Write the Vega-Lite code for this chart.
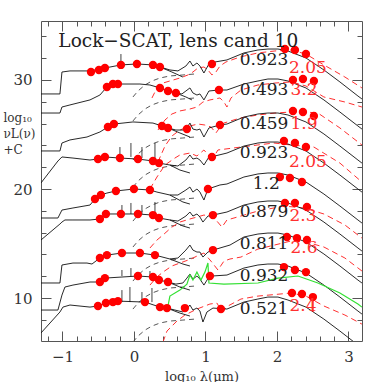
{
 "$schema": "https://vega.github.io/schema/vega-lite/v6.json",
 "width": 321, "height": 320,
 "autosize": {"type": "none"},
 "padding": {"left": 41, "top": 21, "right": 20, "bottom": 41},
 "background": "white",
 "config": {"view": {"stroke": null}, "font": "DejaVu Serif"},
 "datasets": {
  "tot": [
   {"g":1,"x":-1.301,"y":28.72},{"g":1,"x":-1.035,"y":28.72},{"g":1,"x":-1.007,"y":30.73},{"g":1,"x":-0.895,"y":30.83},{"g":1,"x":-0.643,"y":30.83},{"g":1,"x":-0.545,"y":30.92},{"g":1,"x":-0.406,"y":31.10},{"g":1,"x":-0.182,"y":31.38},{"g":1,"x":0.042,"y":31.47},{"g":1,"x":0.266,"y":31.38},{"g":1,"x":0.364,"y":31.19},{"g":1,"x":0.503,"y":30.92},{"g":1,"x":0.615,"y":30.83},{"g":1,"x":0.727,"y":31.28},{"g":1,"x":0.783,"y":31.74},{"g":1,"x":0.825,"y":31.28},{"g":1,"x":0.881,"y":31.56},{"g":1,"x":0.923,"y":31.28},{"g":1,"x":0.979,"y":30.64},{"g":1,"x":1.049,"y":31.47},{"g":1,"x":1.133,"y":31.65},{"g":1,"x":1.301,"y":31.84},{"g":1,"x":1.538,"y":32.48},{"g":1,"x":1.734,"y":32.75},{"g":1,"x":1.874,"y":32.84},{"g":1,"x":2.014,"y":32.84},{"g":1,"x":2.154,"y":32.66},{"g":1,"x":2.406,"y":32.02},{"g":1,"x":2.657,"y":30.92},{"g":1,"x":2.881,"y":29.82},{"g":1,"x":3.133,"y":28.53},{"g":1,"x":3.189,"y":28.26},
   {"g":2,"x":-1.301,"y":26.97},{"g":2,"x":-1.035,"y":26.97},{"g":2,"x":-1.007,"y":27.52},{"g":2,"x":-0.895,"y":27.71},{"g":2,"x":-0.615,"y":28.17},{"g":2,"x":-0.476,"y":28.62},{"g":2,"x":-0.378,"y":29.36},{"g":2,"x":-0.294,"y":29.63},{"g":2,"x":-0.224,"y":29.63},{"g":2,"x":0.084,"y":29.63},{"g":2,"x":0.224,"y":29.54},{"g":2,"x":0.364,"y":29.27},{"g":2,"x":0.476,"y":28.99},{"g":2,"x":0.587,"y":28.81},{"g":2,"x":0.671,"y":28.72},{"g":2,"x":0.727,"y":28.99},{"g":2,"x":0.783,"y":29.27},{"g":2,"x":0.825,"y":28.81},{"g":2,"x":0.881,"y":28.62},{"g":2,"x":0.923,"y":28.72},{"g":2,"x":0.979,"y":28.17},{"g":2,"x":1.049,"y":28.99},{"g":2,"x":1.189,"y":29.08},{"g":2,"x":1.301,"y":29.08},{"g":2,"x":1.538,"y":29.63},{"g":2,"x":1.734,"y":29.91},{"g":2,"x":1.874,"y":30.09},{"g":2,"x":2.014,"y":30.09},{"g":2,"x":2.154,"y":29.91},{"g":2,"x":2.406,"y":29.27},{"g":2,"x":2.657,"y":28.17},{"g":2,"x":2.881,"y":27.06},{"g":2,"x":3.133,"y":25.78},{"g":2,"x":3.189,"y":25.50},
   {"g":3,"x":-1.301,"y":23.49},{"g":3,"x":-1.035,"y":23.49},{"g":3,"x":-1.007,"y":24.22},{"g":3,"x":-0.895,"y":24.50},{"g":3,"x":-0.657,"y":24.77},{"g":3,"x":-0.476,"y":25.23},{"g":3,"x":-0.364,"y":25.69},{"g":3,"x":-0.280,"y":25.96},{"g":3,"x":-0.014,"y":26.15},{"g":3,"x":0.266,"y":26.05},{"g":3,"x":0.392,"y":25.78},{"g":3,"x":0.476,"y":25.60},{"g":3,"x":0.587,"y":25.41},{"g":3,"x":0.685,"y":25.41},{"g":3,"x":0.741,"y":25.60},{"g":3,"x":0.783,"y":26.05},{"g":3,"x":0.825,"y":25.50},{"g":3,"x":0.881,"y":25.41},{"g":3,"x":0.923,"y":25.50},{"g":3,"x":0.979,"y":24.77},{"g":3,"x":1.049,"y":25.60},{"g":3,"x":1.203,"y":25.87},{"g":3,"x":1.301,"y":25.96},{"g":3,"x":1.538,"y":26.60},{"g":3,"x":1.734,"y":26.88},{"g":3,"x":1.874,"y":26.97},{"g":3,"x":2.014,"y":26.97},{"g":3,"x":2.154,"y":26.79},{"g":3,"x":2.406,"y":26.15},{"g":3,"x":2.657,"y":25.05},{"g":3,"x":2.881,"y":23.94},{"g":3,"x":3.133,"y":22.66},{"g":3,"x":3.189,"y":22.38},
   {"g":4,"x":-1.301,"y":20.55},{"g":4,"x":-1.063,"y":22.57},{"g":4,"x":-1.007,"y":22.94},{"g":4,"x":-0.853,"y":22.84},{"g":4,"x":-0.615,"y":22.66},{"g":4,"x":-0.503,"y":22.75},{"g":4,"x":-0.406,"y":22.94},{"g":4,"x":-0.196,"y":22.84},{"g":4,"x":0.056,"y":22.75},{"g":4,"x":0.266,"y":22.57},{"g":4,"x":0.350,"y":22.38},{"g":4,"x":0.503,"y":22.20},{"g":4,"x":0.615,"y":22.11},{"g":4,"x":0.727,"y":22.66},{"g":4,"x":0.783,"y":23.12},{"g":4,"x":0.825,"y":22.75},{"g":4,"x":0.881,"y":22.84},{"g":4,"x":0.923,"y":22.66},{"g":4,"x":0.979,"y":22.20},{"g":4,"x":1.049,"y":22.94},{"g":4,"x":1.133,"y":23.03},{"g":4,"x":1.301,"y":23.30},{"g":4,"x":1.538,"y":23.94},{"g":4,"x":1.734,"y":24.22},{"g":4,"x":1.874,"y":24.31},{"g":4,"x":2.014,"y":24.31},{"g":4,"x":2.154,"y":24.13},{"g":4,"x":2.406,"y":23.49},{"g":4,"x":2.657,"y":22.38},{"g":4,"x":2.881,"y":21.28},{"g":4,"x":3.133,"y":20.00},{"g":4,"x":3.189,"y":19.72},
   {"g":5,"x":-1.301,"y":17.34},{"g":5,"x":-1.063,"y":17.34},{"g":5,"x":-1.007,"y":18.07},{"g":5,"x":-0.853,"y":18.26},{"g":5,"x":-0.615,"y":18.53},{"g":5,"x":-0.545,"y":19.08},{"g":5,"x":-0.462,"y":19.45},{"g":5,"x":-0.378,"y":19.63},{"g":5,"x":-0.252,"y":19.82},{"g":5,"x":0.0,"y":20.00},{"g":5,"x":0.224,"y":19.91},{"g":5,"x":0.322,"y":19.72},{"g":5,"x":0.503,"y":19.45},{"g":5,"x":0.615,"y":19.45},{"g":5,"x":0.727,"y":19.91},{"g":5,"x":0.783,"y":20.18},{"g":5,"x":0.825,"y":19.72},{"g":5,"x":0.881,"y":20.00},{"g":5,"x":0.923,"y":19.72},{"g":5,"x":0.979,"y":18.99},{"g":5,"x":1.035,"y":20.00},{"g":5,"x":1.203,"y":20.37},{"g":5,"x":1.301,"y":20.46},{"g":5,"x":1.538,"y":21.10},{"g":5,"x":1.734,"y":21.38},{"g":5,"x":1.874,"y":21.47},{"g":5,"x":2.014,"y":21.47},{"g":5,"x":2.154,"y":21.28},{"g":5,"x":2.406,"y":20.64},{"g":5,"x":2.657,"y":19.54},{"g":5,"x":2.881,"y":18.44},{"g":5,"x":3.133,"y":17.16},{"g":5,"x":3.189,"y":16.88},
   {"g":6,"x":-1.301,"y":15.32},{"g":6,"x":-1.035,"y":16.79},{"g":6,"x":-1.007,"y":16.97},{"g":6,"x":-0.965,"y":17.16},{"g":6,"x":-0.853,"y":17.16},{"g":6,"x":-0.615,"y":17.16},{"g":6,"x":-0.476,"y":17.25},{"g":6,"x":-0.392,"y":17.71},{"g":6,"x":-0.182,"y":17.71},{"g":6,"x":0.056,"y":17.71},{"g":6,"x":0.266,"y":17.61},{"g":6,"x":0.350,"y":17.34},{"g":6,"x":0.503,"y":17.16},{"g":6,"x":0.615,"y":17.06},{"g":6,"x":0.727,"y":17.52},{"g":6,"x":0.783,"y":17.89},{"g":6,"x":0.825,"y":17.52},{"g":6,"x":0.881,"y":17.71},{"g":6,"x":0.923,"y":17.43},{"g":6,"x":0.965,"y":16.97},{"g":6,"x":1.035,"y":17.52},{"g":6,"x":1.105,"y":17.61},{"g":6,"x":1.301,"y":17.89},{"g":6,"x":1.538,"y":18.53},{"g":6,"x":1.734,"y":18.81},{"g":6,"x":1.874,"y":18.90},{"g":6,"x":2.014,"y":18.90},{"g":6,"x":2.154,"y":18.72},{"g":6,"x":2.406,"y":18.07},{"g":6,"x":2.657,"y":16.97},{"g":6,"x":2.881,"y":15.87},{"g":6,"x":3.133,"y":14.59},{"g":6,"x":3.189,"y":14.31},
   {"g":7,"x":-1.301,"y":11.38},{"g":7,"x":-1.035,"y":11.38},{"g":7,"x":-1.007,"y":13.03},{"g":7,"x":-0.853,"y":13.21},{"g":7,"x":-0.657,"y":13.21},{"g":7,"x":-0.587,"y":13.12},{"g":7,"x":-0.476,"y":13.67},{"g":7,"x":-0.378,"y":13.94},{"g":7,"x":-0.168,"y":14.13},{"g":7,"x":0.084,"y":14.13},{"g":7,"x":0.294,"y":13.94},{"g":7,"x":0.503,"y":13.58},{"g":7,"x":0.615,"y":13.67},{"g":7,"x":0.727,"y":14.40},{"g":7,"x":0.783,"y":14.86},{"g":7,"x":0.825,"y":14.40},{"g":7,"x":0.881,"y":14.22},{"g":7,"x":0.923,"y":14.22},{"g":7,"x":0.965,"y":13.76},{"g":7,"x":1.035,"y":14.22},{"g":7,"x":1.105,"y":14.40},{"g":7,"x":1.343,"y":14.86},{"g":7,"x":1.538,"y":15.60},{"g":7,"x":1.734,"y":15.87},{"g":7,"x":1.874,"y":15.96},{"g":7,"x":2.014,"y":15.96},{"g":7,"x":2.154,"y":15.78},{"g":7,"x":2.406,"y":15.14},{"g":7,"x":2.657,"y":14.04},{"g":7,"x":2.881,"y":12.94},{"g":7,"x":3.133,"y":11.65},{"g":7,"x":3.189,"y":11.38},
   {"g":8,"x":-1.301,"y":8.90},{"g":8,"x":-1.063,"y":8.90},{"g":8,"x":-1.007,"y":10.27},{"g":8,"x":-0.965,"y":11.01},{"g":8,"x":-0.853,"y":11.19},{"g":8,"x":-0.615,"y":11.47},{"g":8,"x":-0.476,"y":11.47},{"g":8,"x":-0.406,"y":11.83},{"g":8,"x":0.056,"y":12.02},{"g":8,"x":0.266,"y":11.93},{"g":8,"x":0.350,"y":11.65},{"g":8,"x":0.476,"y":11.47},{"g":8,"x":0.587,"y":11.28},{"g":8,"x":0.685,"y":11.38},{"g":8,"x":0.741,"y":11.83},{"g":8,"x":0.783,"y":12.20},{"g":8,"x":0.825,"y":11.74},{"g":8,"x":0.881,"y":12.02},{"g":8,"x":0.923,"y":11.74},{"g":8,"x":0.979,"y":11.19},{"g":8,"x":1.049,"y":11.93},{"g":8,"x":1.091,"y":12.02},{"g":8,"x":1.301,"y":12.11},{"g":8,"x":1.538,"y":12.75},{"g":8,"x":1.734,"y":13.03},{"g":8,"x":1.874,"y":13.12},{"g":8,"x":2.014,"y":13.12},{"g":8,"x":2.154,"y":12.94},{"g":8,"x":2.406,"y":12.29},{"g":8,"x":2.657,"y":11.19},{"g":8,"x":2.881,"y":10.09},{"g":8,"x":3.133,"y":8.81},{"g":8,"x":3.189,"y":8.53},
   {"g":9,"x":-1.301,"y":6.79},{"g":9,"x":-1.035,"y":8.72},{"g":9,"x":-0.993,"y":9.17},{"g":9,"x":-0.895,"y":9.36},{"g":9,"x":-0.615,"y":9.17},{"g":9,"x":-0.503,"y":9.27},{"g":9,"x":-0.392,"y":9.54},{"g":9,"x":-0.294,"y":9.63},{"g":9,"x":-0.224,"y":9.72},{"g":9,"x":0.154,"y":9.63},{"g":9,"x":0.364,"y":9.17},{"g":9,"x":0.462,"y":9.08},{"g":9,"x":0.573,"y":8.90},{"g":9,"x":0.685,"y":8.72},{"g":9,"x":0.741,"y":8.99},{"g":9,"x":0.783,"y":9.36},{"g":9,"x":0.825,"y":8.90},{"g":9,"x":0.881,"y":9.08},{"g":9,"x":0.923,"y":8.81},{"g":9,"x":0.965,"y":7.80},{"g":9,"x":1.021,"y":8.72},{"g":9,"x":1.105,"y":9.08},{"g":9,"x":1.301,"y":8.99},{"g":9,"x":1.538,"y":9.63},{"g":9,"x":1.734,"y":9.91},{"g":9,"x":1.874,"y":10.09},{"g":9,"x":2.014,"y":10.09},{"g":9,"x":2.154,"y":9.82},{"g":9,"x":2.406,"y":9.17},{"g":9,"x":2.657,"y":8.07},{"g":9,"x":2.881,"y":6.97},{"g":9,"x":3.133,"y":5.69},{"g":9,"x":3.189,"y":5.41}
  ],
  "tail": [
   {"g":1,"x":0.364,"y":31.19},{"g":1,"x":0.531,"y":30.73},{"g":1,"x":0.685,"y":30.27},
   {"g":2,"x":0.587,"y":28.81},{"g":2,"x":0.727,"y":28.44},{"g":2,"x":0.811,"y":28.17},
   {"g":3,"x":0.476,"y":25.60},{"g":3,"x":0.643,"y":25.14},{"g":3,"x":0.783,"y":24.77},
   {"g":4,"x":0.503,"y":22.20},{"g":4,"x":0.643,"y":21.74},{"g":4,"x":0.783,"y":21.47},
   {"g":5,"x":0.503,"y":19.45},{"g":5,"x":0.685,"y":18.81},{"g":5,"x":0.783,"y":18.62},
   {"g":6,"x":0.503,"y":17.16},{"g":6,"x":0.685,"y":16.61},{"g":6,"x":0.783,"y":16.42},
   {"g":7,"x":0.503,"y":13.58},{"g":7,"x":0.685,"y":13.12},{"g":7,"x":0.783,"y":12.94},
   {"g":8,"x":0.476,"y":11.47},{"g":8,"x":0.643,"y":11.01},{"g":8,"x":0.783,"y":10.73},
   {"g":9,"x":0.462,"y":9.08},{"g":9,"x":0.643,"y":8.62},{"g":9,"x":0.783,"y":8.35}
  ],
  "bd": [
   {"g":1,"x":-0.014,"y":28.44},{"g":1,"x":0.056,"y":28.99},{"g":1,"x":0.154,"y":29.54},{"g":1,"x":0.252,"y":29.91},{"g":1,"x":0.364,"y":30.18},{"g":1,"x":0.503,"y":30.37},{"g":1,"x":0.685,"y":30.46},{"g":1,"x":0.853,"y":30.55},
   {"g":2,"x":-0.014,"y":26.24},{"g":2,"x":0.056,"y":26.79},{"g":2,"x":0.154,"y":27.34},{"g":2,"x":0.252,"y":27.71},{"g":2,"x":0.364,"y":27.98},{"g":2,"x":0.503,"y":28.17},{"g":2,"x":0.685,"y":28.26},{"g":2,"x":0.853,"y":28.35},
   {"g":3,"x":-0.014,"y":22.66},{"g":3,"x":0.056,"y":23.21},{"g":3,"x":0.154,"y":23.76},{"g":3,"x":0.252,"y":24.13},{"g":3,"x":0.364,"y":24.40},{"g":3,"x":0.503,"y":24.59},{"g":3,"x":0.685,"y":24.68},{"g":3,"x":0.853,"y":24.77},
   {"g":4,"x":-0.014,"y":20.18},{"g":4,"x":0.056,"y":20.73},{"g":4,"x":0.154,"y":21.28},{"g":4,"x":0.252,"y":21.65},{"g":4,"x":0.364,"y":21.93},{"g":4,"x":0.503,"y":22.11},{"g":4,"x":0.685,"y":22.20},{"g":4,"x":0.853,"y":22.29},
   {"g":5,"x":-0.014,"y":17.06},{"g":5,"x":0.056,"y":17.61},{"g":5,"x":0.154,"y":18.17},{"g":5,"x":0.252,"y":18.53},{"g":5,"x":0.364,"y":18.81},{"g":5,"x":0.503,"y":18.99},{"g":5,"x":0.685,"y":19.08},{"g":5,"x":0.853,"y":19.17},
   {"g":6,"x":-0.014,"y":14.68},{"g":6,"x":0.056,"y":15.23},{"g":6,"x":0.154,"y":15.78},{"g":6,"x":0.252,"y":16.15},{"g":6,"x":0.364,"y":16.42},{"g":6,"x":0.503,"y":16.61},{"g":6,"x":0.685,"y":16.70},{"g":6,"x":0.853,"y":16.79},
   {"g":7,"x":-0.014,"y":11.56},{"g":7,"x":0.056,"y":12.11},{"g":7,"x":0.154,"y":12.66},{"g":7,"x":0.252,"y":13.03},{"g":7,"x":0.364,"y":13.30},{"g":7,"x":0.503,"y":13.49},{"g":7,"x":0.685,"y":13.58},{"g":7,"x":0.853,"y":13.67},
   {"g":8,"x":-0.014,"y":8.99},{"g":8,"x":0.056,"y":9.54},{"g":8,"x":0.154,"y":10.09},{"g":8,"x":0.252,"y":10.46},{"g":8,"x":0.364,"y":10.73},{"g":8,"x":0.503,"y":10.92},{"g":8,"x":0.685,"y":11.01},{"g":8,"x":0.853,"y":11.10},
   {"g":9,"x":-0.014,"y":5.96},{"g":9,"x":0.056,"y":6.51},{"g":9,"x":0.154,"y":7.06},{"g":9,"x":0.252,"y":7.43},{"g":9,"x":0.364,"y":7.71},{"g":9,"x":0.503,"y":7.89},{"g":9,"x":0.685,"y":7.98},{"g":9,"x":0.853,"y":8.07}
  ],
  "rd": [
   {"g":1,"x":0.252,"y":28.35},{"g":1,"x":0.322,"y":29.27},{"g":1,"x":0.406,"y":29.72},{"g":1,"x":0.503,"y":29.91},{"g":1,"x":0.643,"y":30.18},{"g":1,"x":0.755,"y":30.46},{"g":1,"x":0.825,"y":30.73},{"g":1,"x":0.895,"y":31.10},{"g":1,"x":0.979,"y":31.19},{"g":1,"x":1.035,"y":30.92},{"g":1,"x":1.091,"y":30.46},{"g":1,"x":1.147,"y":30.73},{"g":1,"x":1.203,"y":31.28},{"g":1,"x":1.287,"y":31.65},{"g":1,"x":1.483,"y":32.11},{"g":1,"x":1.734,"y":32.48},{"g":1,"x":1.972,"y":32.66},{"g":1,"x":2.196,"y":32.75},{"g":1,"x":2.406,"y":32.38},{"g":1,"x":2.657,"y":31.38},{"g":1,"x":2.951,"y":30.27},{"g":1,"x":3.189,"y":29.27},
   {"g":2,"x":0.336,"y":25.41},{"g":2,"x":0.434,"y":26.33},{"g":2,"x":0.531,"y":26.88},{"g":2,"x":0.643,"y":27.16},{"g":2,"x":0.783,"y":27.34},{"g":2,"x":0.881,"y":27.52},{"g":2,"x":0.965,"y":27.98},{"g":2,"x":1.063,"y":28.17},{"g":2,"x":1.203,"y":28.35},{"g":2,"x":1.259,"y":27.98},{"g":2,"x":1.301,"y":27.52},{"g":2,"x":1.357,"y":28.35},{"g":2,"x":1.497,"y":29.08},{"g":2,"x":1.734,"y":29.54},{"g":2,"x":1.972,"y":29.72},{"g":2,"x":2.196,"y":29.82},{"g":2,"x":2.406,"y":29.45},{"g":2,"x":2.657,"y":28.44},{"g":2,"x":2.951,"y":27.98},{"g":2,"x":3.189,"y":27.52},
   {"g":3,"x":0.336,"y":22.48},{"g":3,"x":0.434,"y":23.94},{"g":3,"x":0.531,"y":24.86},{"g":3,"x":0.643,"y":25.41},{"g":3,"x":0.783,"y":25.78},{"g":3,"x":0.895,"y":25.96},{"g":3,"x":0.993,"y":25.87},{"g":3,"x":1.077,"y":25.69},{"g":3,"x":1.147,"y":25.14},{"g":3,"x":1.217,"y":25.78},{"g":3,"x":1.259,"y":26.05},{"g":3,"x":1.483,"y":26.51},{"g":3,"x":1.734,"y":26.79},{"g":3,"x":1.972,"y":26.97},{"g":3,"x":2.196,"y":27.06},{"g":3,"x":2.406,"y":27.06},{"g":3,"x":2.573,"y":26.97},{"g":3,"x":2.881,"y":25.60},{"g":3,"x":3.189,"y":24.04},
   {"g":4,"x":0.224,"y":20.00},{"g":4,"x":0.322,"y":21.10},{"g":4,"x":0.434,"y":22.20},{"g":4,"x":0.573,"y":22.84},{"g":4,"x":0.643,"y":23.12},{"g":4,"x":0.783,"y":23.30},{"g":4,"x":0.881,"y":23.03},{"g":4,"x":0.979,"y":23.58},{"g":4,"x":1.063,"y":22.94},{"g":4,"x":1.133,"y":23.12},{"g":4,"x":1.175,"y":23.58},{"g":4,"x":1.497,"y":23.85},{"g":4,"x":1.734,"y":24.04},{"g":4,"x":1.958,"y":24.22},{"g":4,"x":2.196,"y":24.04},{"g":4,"x":2.517,"y":23.85},{"g":4,"x":2.881,"y":22.38},{"g":4,"x":3.189,"y":20.64},
   {"g":6,"x":0.224,"y":14.59},{"g":6,"x":0.322,"y":15.32},{"g":6,"x":0.406,"y":15.78},{"g":6,"x":0.531,"y":16.51},{"g":6,"x":0.643,"y":16.97},{"g":6,"x":0.783,"y":17.25},{"g":6,"x":0.881,"y":17.43},{"g":6,"x":0.979,"y":17.61},{"g":6,"x":1.063,"y":17.52},{"g":6,"x":1.147,"y":17.16},{"g":6,"x":1.231,"y":16.51},{"g":6,"x":1.301,"y":17.16},{"g":6,"x":1.399,"y":17.34},{"g":6,"x":1.734,"y":17.98},{"g":6,"x":2.098,"y":18.44},{"g":6,"x":2.378,"y":18.26},{"g":6,"x":2.657,"y":17.71},{"g":6,"x":2.951,"y":16.70},{"g":6,"x":3.189,"y":15.50},
   {"g":7,"x":0.224,"y":11.19},{"g":7,"x":0.322,"y":11.93},{"g":7,"x":0.406,"y":12.38},{"g":7,"x":0.531,"y":12.94},{"g":7,"x":0.643,"y":13.21},{"g":7,"x":0.797,"y":13.58},{"g":7,"x":0.881,"y":13.85},{"g":7,"x":0.979,"y":14.13},{"g":7,"x":1.077,"y":13.39},{"g":7,"x":1.175,"y":12.57},{"g":7,"x":1.259,"y":13.39},{"g":7,"x":1.343,"y":13.58},{"g":7,"x":1.497,"y":13.76},{"g":7,"x":1.734,"y":14.49},{"g":7,"x":2.196,"y":15.23},{"g":7,"x":2.406,"y":15.14},{"g":7,"x":2.657,"y":14.68},{"g":7,"x":2.951,"y":13.67},{"g":7,"x":3.189,"y":12.48},
   {"g":9,"x":0.406,"y":5.96},{"g":9,"x":0.462,"y":6.97},{"g":9,"x":0.601,"y":7.89},{"g":9,"x":0.713,"y":8.44},{"g":9,"x":0.881,"y":8.99},{"g":9,"x":1.063,"y":9.45},{"g":9,"x":1.161,"y":9.54},{"g":9,"x":1.231,"y":8.72},{"g":9,"x":1.315,"y":9.27},{"g":9,"x":1.497,"y":9.91},{"g":9,"x":1.734,"y":10.18},{"g":9,"x":2.196,"y":10.46},{"g":9,"x":2.406,"y":10.18},{"g":9,"x":2.657,"y":9.27},{"g":9,"x":2.951,"y":8.44},{"g":9,"x":3.189,"y":7.61}
  ],
  "green": [
   {"x":0.364,"y":9.17},{"x":0.476,"y":9.27},{"x":0.503,"y":10.18},{"x":0.643,"y":10.73},{"x":0.741,"y":11.28},{"x":0.783,"y":12.11},{"x":0.825,"y":11.65},{"x":0.881,"y":12.38},{"x":0.937,"y":11.65},{"x":0.993,"y":12.38},{"x":1.035,"y":13.21},{"x":1.049,"y":11.38},{"x":1.259,"y":11.28},{"x":1.734,"y":11.38},{"x":2.014,"y":11.83},{"x":2.294,"y":12.02},{"x":2.573,"y":11.38},{"x":2.881,"y":10.46},{"x":3.133,"y":9.45},{"x":3.189,"y":9.17}
  ],
  "dots": [
   {"x":-0.601,"y":30.73},{"x":-0.490,"y":30.92},{"x":-0.406,"y":31.10},{"x":-0.182,"y":31.38},{"x":0.042,"y":31.47},{"x":0.266,"y":31.38},{"x":0.364,"y":31.19},{"x":1.091,"y":31.47},{"x":2.112,"y":32.84},{"x":2.252,"y":32.75},{"x":2.406,"y":32.38},
   {"x":-0.378,"y":29.36},{"x":-0.294,"y":29.63},{"x":-0.224,"y":29.63},{"x":0.364,"y":29.27},{"x":0.476,"y":28.99},{"x":0.587,"y":28.81},{"x":1.189,"y":29.08},{"x":2.224,"y":30.00},{"x":2.364,"y":30.09},{"x":2.517,"y":29.91},
   {"x":-0.364,"y":25.69},{"x":-0.280,"y":25.96},{"x":0.392,"y":25.78},{"x":0.476,"y":25.60},{"x":0.741,"y":25.50},{"x":1.203,"y":25.87},{"x":2.224,"y":27.16},{"x":2.364,"y":27.06},{"x":2.517,"y":26.70},
   {"x":-0.503,"y":22.75},{"x":-0.406,"y":22.94},{"x":-0.196,"y":22.84},{"x":0.056,"y":22.75},{"x":0.266,"y":22.57},{"x":0.350,"y":22.38},{"x":1.091,"y":22.94},{"x":2.098,"y":24.40},{"x":2.252,"y":24.22},{"x":2.406,"y":23.85},
   {"x":-0.545,"y":19.08},{"x":-0.462,"y":19.45},{"x":-0.252,"y":19.82},{"x":0.0,"y":20.00},{"x":0.224,"y":19.91},{"x":1.035,"y":20.00},{"x":2.042,"y":21.10},{"x":2.182,"y":21.01},{"x":2.350,"y":20.64},
   {"x":-0.476,"y":17.25},{"x":-0.392,"y":17.71},{"x":-0.182,"y":17.71},{"x":0.056,"y":17.71},{"x":0.266,"y":17.61},{"x":0.350,"y":17.34},{"x":1.105,"y":17.61},{"x":2.112,"y":18.72},{"x":2.252,"y":18.72},{"x":2.420,"y":18.35},
   {"x":-0.476,"y":13.67},{"x":-0.378,"y":13.94},{"x":-0.168,"y":14.13},{"x":0.084,"y":14.13},{"x":0.294,"y":13.94},{"x":1.105,"y":14.40},{"x":2.140,"y":15.60},{"x":2.280,"y":15.50},{"x":2.420,"y":15.32},
   {"x":-0.476,"y":11.47},{"x":-0.406,"y":11.83},{"x":0.056,"y":12.02},{"x":0.266,"y":11.93},{"x":0.350,"y":11.65},{"x":0.476,"y":11.47},{"x":1.063,"y":12.02},{"x":2.098,"y":12.84},{"x":2.252,"y":12.57},{"x":2.406,"y":12.38},
   {"x":-0.503,"y":9.27},{"x":-0.392,"y":9.54},{"x":-0.294,"y":9.63},{"x":-0.224,"y":9.72},{"x":0.154,"y":9.63},{"x":0.364,"y":9.17},{"x":0.462,"y":9.08},{"x":0.713,"y":9.08},{"x":1.217,"y":8.99},{"x":2.210,"y":10.46},{"x":2.350,"y":10.37},{"x":2.503,"y":10.09}
  ],
  "spikes": [
   {"x":-0.182,"y":31.38,"y2":32.38},{"x":0.042,"y":31.47,"y2":31.84},
   {"x":-0.196,"y":22.84,"y2":23.85},{"x":-0.042,"y":22.94,"y2":24.22},{"x":0.112,"y":22.84,"y2":23.85},{"x":0.294,"y":22.57,"y2":24.22},
   {"x":-0.168,"y":17.71,"y2":18.53},{"x":-0.042,"y":17.71,"y2":18.72},{"x":0.112,"y":17.71,"y2":18.53},{"x":0.294,"y":17.61,"y2":18.81},
   {"x":-0.168,"y":12.02,"y2":12.57},{"x":-0.042,"y":12.02,"y2":12.75},{"x":0.224,"y":11.93,"y2":12.48},
   {"x":-0.168,"y":9.63,"y2":10.73},{"x":-0.056,"y":9.63,"y2":11.01},{"x":0.112,"y":9.63,"y2":10.55},{"x":0.252,"y":9.63,"y2":10.92}
  ],
  "ulim": [{"x":2.503,"y":10.09,"y2":8.72}],
  "labk": [
   {"x":1.82,"y":31.84,"t":"0.923"},{"x":1.82,"y":29.08,"t":"0.493"},{"x":1.82,"y":25.96,"t":"0.459"},{"x":1.82,"y":23.30,"t":"0.923"},{"x":1.85,"y":20.46,"t":"1.2"},{"x":1.82,"y":17.89,"t":"0.879"},{"x":1.82,"y":14.95,"t":"0.811"},{"x":1.82,"y":12.02,"t":"0.932"},{"x":1.82,"y":8.99,"t":"0.521"}
  ],
  "labr": [
   {"x":2.434,"y":31.10,"t":"2.05"},{"x":2.378,"y":29.08,"t":"3.2"},{"x":2.378,"y":25.96,"t":"1.9"},{"x":2.434,"y":22.48,"t":"2.05"},{"x":2.364,"y":17.52,"t":"2.3"},{"x":2.378,"y":14.59,"t":"2.6"},{"x":2.364,"y":9.27,"t":"2.4"}
  ],
  "ttl": [{"x":0.62,"y":33.60,"t":"Lock−SCAT, lens cand 10"}]
 },
 "layer": [
  {
   "encoding": {
    "x": {"field": "x", "type": "quantitative",
     "scale": {"domain": [-1.3, 3.19], "nice": false, "zero": false},
     "axis": {"orient": "bottom", "grid": false,
      "values": [-1.2,-1,-0.8,-0.6,-0.4,-0.2,0,0.2,0.4,0.6,0.8,1,1.2,1.4,1.6,1.8,2,2.2,2.4,2.6,2.8,3],
      "format": ".0f",
      "labelExpr": "abs(datum.value - round(datum.value)) < 0.001 ? datum.label : ''",
      "tickSize": {"condition": {"test": "abs(datum.value - round(datum.value)) < 0.001", "value": -10}, "value": -5},
      "labelPadding": 18, "labelFontSize": 15, "labelFont": "DejaVu Serif", "labelColor": "#333",
      "labelOverlap": false, "labelFlush": false,
      "tickColor": "#555", "domainColor": "#555",
      "title": "log₁₀  λ(μm)", "titleFont": "DejaVu Serif", "titleFontSize": 13, "titleFontWeight": "normal", "titleColor": "#333",
      "titleY": 35, "titleBaseline": "middle"}},
    "y": {"field": "y", "type": "quantitative",
     "scale": {"domain": [6.06, 35.41], "nice": false, "zero": false},
     "axis": {"orient": "left", "grid": false,
      "values": [8,10,12,14,16,18,20,22,24,26,28,30,32,34],
      "labelExpr": "datum.value % 10 === 0 ? datum.label : ''",
      "tickSize": {"condition": {"test": "datum.value % 10 === 0", "value": -10}, "value": -5},
      "labelPadding": 19, "labelFontSize": 15, "labelFont": "DejaVu Serif", "labelColor": "#333",
      "labelOverlap": false, "labelFlush": false,
      "tickColor": "#555", "domainColor": "#555",
      "title": ["log₁₀", "νL(ν)", "+C"], "titleFont": "DejaVu Serif", "titleFontSize": 12, "titleFontWeight": "normal", "titleColor": "#333",
      "titleAngle": 0, "titleAlign": "left", "titleBaseline": "alphabetic", "titleX": -38, "titleY": 100, "titleLineHeight": 16}}
   },
   "layer": [
    {"data": {"name": "bd"}, "mark": {"type": "line", "color": "#444", "strokeWidth": 0.9, "strokeDash": [5, 4], "clip": true}, "encoding": {"detail": {"field": "g"}}},
    {"data": {"name": "rd"}, "mark": {"type": "line", "color": "#ff3030", "strokeWidth": 1, "strokeDash": [6, 4], "clip": true}, "encoding": {"detail": {"field": "g"}}},
    {"data": {"name": "tail"}, "mark": {"type": "line", "color": "#111", "strokeWidth": 0.9, "clip": true}, "encoding": {"detail": {"field": "g"}}},
    {"data": {"name": "tot"}, "mark": {"type": "line", "color": "#111", "strokeWidth": 0.9, "clip": true}, "encoding": {"detail": {"field": "g"}}},
    {"data": {"name": "green"}, "mark": {"type": "line", "color": "#33e033", "strokeWidth": 1.2, "clip": true}, "encoding": {}},
    {"data": {"name": "spikes"}, "mark": {"type": "rule", "color": "#111", "strokeWidth": 0.8}, "encoding": {"y2": {"field": "y2"}}},
    {"data": {"name": "ulim"}, "mark": {"type": "rule", "color": "#ff0000", "strokeWidth": 1.2}, "encoding": {"y2": {"field": "y2"}}},
    {"data": {"name": "dots"}, "mark": {"type": "point", "filled": true, "color": "#ff0000", "size": 70, "opacity": 1}, "encoding": {}},
    {"data": {"name": "labk"}, "mark": {"type": "text", "font": "DejaVu Serif", "fontSize": 17, "color": "#222", "align": "center", "baseline": "middle"}, "encoding": {"text": {"field": "t"}}},
    {"data": {"name": "labr"}, "mark": {"type": "text", "font": "DejaVu Serif", "fontSize": 17, "color": "#ff3030", "align": "center", "baseline": "middle"}, "encoding": {"text": {"field": "t"}}},
    {"data": {"name": "ttl"}, "mark": {"type": "text", "font": "DejaVu Serif", "fontSize": 18.5, "color": "#222", "align": "center", "baseline": "middle"}, "encoding": {"text": {"field": "t"}}}
   ]
  },
  {
   "data": {"name": "ttl"},
   "mark": {"type": "point", "opacity": 0},
   "encoding": {
    "x": {"field": "x", "type": "quantitative",
     "scale": {"domain": [-1.3, 3.19], "nice": false, "zero": false},
     "axis": {"orient": "top", "grid": false, "labels": false, "title": null,
      "values": [-1.2,-1,-0.8,-0.6,-0.4,-0.2,0,0.2,0.4,0.6,0.8,1,1.2,1.4,1.6,1.8,2,2.2,2.4,2.6,2.8,3],
      "tickSize": {"condition": {"test": "abs(datum.value - round(datum.value)) < 0.001", "value": -10}, "value": -5},
      "tickColor": "#555", "domainColor": "#555"}},
    "y": {"field": "y", "type": "quantitative",
     "scale": {"domain": [6.06, 35.41], "nice": false, "zero": false},
     "axis": {"orient": "right", "grid": false, "labels": false, "title": null,
      "values": [8,10,12,14,16,18,20,22,24,26,28,30,32,34],
      "tickSize": {"condition": {"test": "datum.value % 10 === 0", "value": -10}, "value": -5},
      "tickColor": "#555", "domainColor": "#555"}}
   }
  }
 ],
 "resolve": {"axis": {"x": "independent", "y": "independent"}}
}
